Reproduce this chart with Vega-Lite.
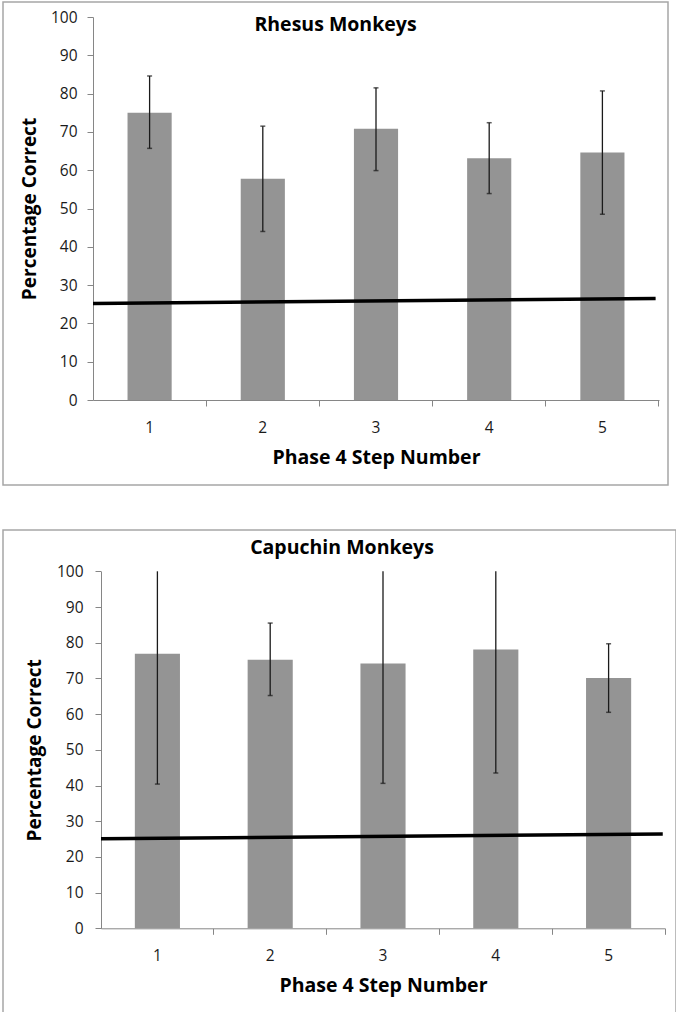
{
  "$schema": "https://vega.github.io/schema/vega-lite/v6.json",
  "padding": {"left": 2, "top": 1, "right": 0, "bottom": 0},
  "spacing": 43,
  "datasets": {
    "rhesus": [
      {"step": 1, "pct": 75.0, "lo": 65.7, "hi": 84.6},
      {"step": 2, "pct": 57.8, "lo": 44.0, "hi": 71.5},
      {"step": 3, "pct": 70.8, "lo": 59.9, "hi": 81.5},
      {"step": 4, "pct": 63.1, "lo": 53.9, "hi": 72.4},
      {"step": 5, "pct": 64.6, "lo": 48.5, "hi": 80.7}
    ],
    "capuchin": [
      {"step": 1, "pct": 76.9, "lo": 40.4, "hi": 113.4},
      {"step": 2, "pct": 75.2, "lo": 65.2, "hi": 85.5},
      {"step": 3, "pct": 74.2, "lo": 40.6, "hi": 107.8},
      {"step": 4, "pct": 78.1, "lo": 43.5, "hi": 112.7},
      {"step": 5, "pct": 70.1, "lo": 60.5, "hi": 79.7}
    ],
    "chance_rhesus": [
      {"x": 0.5, "y": 25.2},
      {"x": 5.47, "y": 26.5}
    ],
    "chance_capuchin": [
      {"x": 0.5, "y": 25.1},
      {"x": 5.48, "y": 26.4}
    ]
  },
  "vconcat": [
    {
      "width": 665,
      "height": 483,
      "title": {"text": "Rhesus Monkeys", "offset": -48, "baseline": "alphabetic"},
      "layer": [
        {
          "data": {"name": "rhesus"},
          "encoding": {
            "x": {
              "field": "step", "type": "ordinal",
              "scale": {"range": [90, 656], "paddingInner": 0.61, "paddingOuter": 0.305},
              "axis": {"title": "Phase 4 Step Number", "titleFontSize": 19.5, "labelAngle": 0, "offset": -85, "bandPosition": 1.782, "labelPadding": 14, "titlePadding": 13}
            }
          },
          "layer": [
            {
              "mark": {"type": "bar", "color": "#949494"},
              "encoding": {
                "y": {"field": "pct", "type": "quantitative",
                  "scale": {"domain": [0, 100], "range": [398, 15], "clamp": true, "nice": false},
                  "axis": {"title": "Percentage Correct", "offset": -90, "values": [0,10,20,30,40,50,60,70,80,90,100], "ticks": true, "tickSize": 6, "tickWidth": 1, "labelPadding": 10, "titlePadding": 11}}
              }
            },
            {
              "mark": {"type": "rule", "color": "#1a1a1a", "strokeWidth": 1.3},
              "encoding": {
                "y": {"field": "lo", "type": "quantitative", "title": "Percentage Correct"},
                "y2": {"field": "hi"}
              }
            },
            {
              "mark": {"type": "tick", "color": "#1a1a1a", "size": 5, "thickness": 1.5},
              "encoding": {
                "y": {"field": "lo", "type": "quantitative", "title": "Percentage Correct"}
              }
            },
            {
              "transform": [{"filter": "datum.hi <= 100"}],
              "mark": {"type": "tick", "color": "#1a1a1a", "size": 5, "thickness": 1.5},
              "encoding": {
                "y": {"field": "hi", "type": "quantitative", "title": "Percentage Correct"}
              }
            }
          ]
        },
        {
          "data": {"name": "chance_rhesus"},
          "mark": {"type": "line", "color": "#000000", "strokeWidth": 3.5},
          "encoding": {
            "x": {"field": "x", "type": "quantitative", "scale": {"domain": [0.5, 5.5], "range": [90, 656], "nice": false, "zero": false}, "axis": null},
            "y": {"field": "y", "type": "quantitative", "title": "Percentage Correct"}
          }
        }
      ],
      "resolve": {"scale": {"x": "independent"}}
    },
    {
      "width": 673,
      "height": 484,
      "title": {"text": "Capuchin Monkeys", "offset": -43, "baseline": "alphabetic", "dx": 2.5},
      "layer": [
        {
          "data": {"name": "capuchin"},
          "encoding": {
            "x": {
              "field": "step", "type": "ordinal",
              "scale": {"range": [98, 662], "paddingInner": 0.6, "paddingOuter": 0.3},
              "axis": {"title": "Phase 4 Step Number", "titleFontSize": 19.5, "labelAngle": 0, "offset": -85.7, "bandPosition": 1.75, "labelPadding": 14, "titlePadding": 13}
            }
          },
          "layer": [
            {
              "mark": {"type": "bar", "color": "#949494"},
              "encoding": {
                "y": {"field": "pct", "type": "quantitative",
                  "scale": {"domain": [0, 100], "range": [398.3, 41.3], "clamp": true, "nice": false},
                  "axis": {"title": "Percentage Correct", "offset": -98, "values": [0,10,20,30,40,50,60,70,80,90,100], "ticks": true, "tickSize": 6, "tickWidth": 1, "labelPadding": 12, "titlePadding": 12}}
              }
            },
            {
              "mark": {"type": "rule", "color": "#1a1a1a", "strokeWidth": 1.3},
              "encoding": {
                "y": {"field": "lo", "type": "quantitative", "title": "Percentage Correct"},
                "y2": {"field": "hi"}
              }
            },
            {
              "mark": {"type": "tick", "color": "#1a1a1a", "size": 5, "thickness": 1.5},
              "encoding": {
                "y": {"field": "lo", "type": "quantitative", "title": "Percentage Correct"}
              }
            },
            {
              "transform": [{"filter": "datum.hi <= 100"}],
              "mark": {"type": "tick", "color": "#1a1a1a", "size": 5, "thickness": 1.5},
              "encoding": {
                "y": {"field": "hi", "type": "quantitative", "title": "Percentage Correct"}
              }
            }
          ]
        },
        {
          "data": {"name": "chance_capuchin"},
          "mark": {"type": "line", "color": "#000000", "strokeWidth": 3.5},
          "encoding": {
            "x": {"field": "x", "type": "quantitative", "scale": {"domain": [0.5, 5.5], "range": [98, 662], "nice": false, "zero": false}, "axis": null},
            "y": {"field": "y", "type": "quantitative", "title": "Percentage Correct"}
          }
        }
      ],
      "resolve": {"scale": {"x": "independent"}}
    }
  ],
  "config": {
    "font": "Open Sans",
    "view": {"stroke": "#a6a6a6", "strokeWidth": 1.5},
    "axis": {
      "domainColor": "#868686", "tickColor": "#868686", "tickSize": 6, "grid": false,
      "labelColor": "#1a1a1a", "labelFont": "Open Sans", "labelFontSize": 15.5,
      "titleFont": "Open Sans", "titleFontSize": 19, "titleFontWeight": "bold", "titleColor": "#000000"
    },
    "title": {"font": "Open Sans", "fontSize": 19.5, "fontWeight": "bold", "color": "#000000"}
  }
}
